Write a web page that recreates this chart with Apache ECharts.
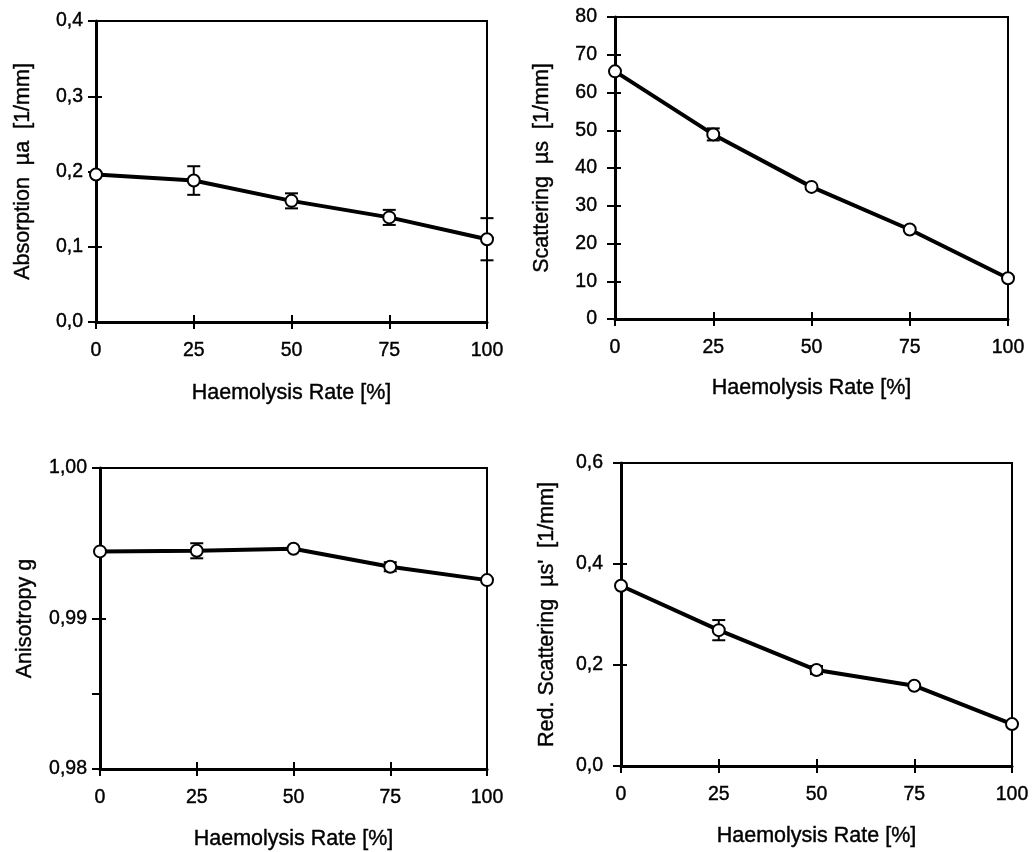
<!DOCTYPE html>
<html>
<head>
<meta charset="utf-8">
<script src="https://cdn.jsdelivr.net/npm/echarts@6/dist/echarts.min.js"></script>
<style>
  html, body { margin: 0; padding: 0; background: #fff; }
  #chart { width: 1035px; height: 852px; }
</style>
</head>
<body>
<div id="chart"></div>
<script>
// haemolysis rate on x for all four panels
const rates = [0, 25, 50, 75, 100]

const absorption = [0.196, 0.188, 0.161, 0.139, 0.110]
const absorptionErr = [0, 0.019, 0.010, 0.010, 0.028]

const scattering = [65.6, 48.9, 35.0, 23.7, 10.8]
const scatteringErr = [0, 1.6, 0, 0, 0]

const anisotropy = [0.99446, 0.99450, 0.99463, 0.99344, 0.99255]
const anisotropyErr = [0, 0.0005, 0, 0.0003, 0]

const redScattering = [0.357, 0.269, 0.190, 0.159, 0.083]
const redScatteringErr = [0, 0.02, 0.008, 0, 0]

const xName = 'Haemolysis Rate [%]'

const FONT = "'Liberation Sans', Arial, sans-serif"
// thin outline makes the glyphs a bit heavier, like the scanned figure
const TEXT = { fontFamily: FONT, color: '#000', textBorderColor: '#000', textBorderWidth: 0.4 }

// one entry per panel
const panels = [
  {
    values: absorption, errs: absorptionErr,
    name: 'Absorption  µa  [1/mm]',
    min: 0, max: 0.4, interval: 0.1, digits: 1,
    rect: { left: 96, top: 21, width: 391, height: 301 },
    labelMargin: 13, nameGap: 62, xNameGap: 60,
  },
  {
    values: scattering, errs: scatteringErr,
    name: 'Scattering  µs  [1/mm]',
    min: 0, max: 80, interval: 10, digits: 0,
    rect: { left: 615, top: 17, width: 393, height: 302 },
    labelMargin: 18, nameGap: 62, xNameGap: 58,
  },
  {
    values: anisotropy, errs: anisotropyErr,
    name: 'Anisotropy g',
    min: 0.98, max: 1.0, interval: 0.01, digits: 2,
    ticks: [0.98, 0.985, 0.99, 1.0],
    rect: { left: 100, top: 468, width: 387, height: 301 },
    labelMargin: 13, nameGap: 64, xNameGap: 59,
  },
  {
    values: redScattering, errs: redScatteringErr,
    name: "Red. Scattering  µs'  [1/mm]",
    min: 0, max: 0.6, interval: 0.2, digits: 1,
    rect: { left: 621, top: 463, width: 391, height: 303 },
    labelMargin: 18, nameGap: 63, xNameGap: 59,
  },
]

const fmt = (d) => (v) => v.toFixed(d).replace('.', ',')

const grid = []
const xAxis = []
const yAxis = []
const series = []

panels.forEach((p, i) => {
  grid.push({
    ...p.rect,
    show: true,
    borderColor: '#000',
    borderWidth: 2,
    backgroundColor: 'transparent',
  })

  // main axes: labels, names, outward ticks
  xAxis.push({
    type: 'value',
    gridIndex: i,
    position: 'bottom',
    min: 0,
    max: 100,
    interval: 25,
    name: xName,
    nameLocation: 'middle',
    nameGap: p.xNameGap,
    nameTextStyle: { ...TEXT, fontSize: 21.5 },
    axisLine: { show: true, lineStyle: { color: '#000', width: 3 } },
    axisTick: { show: true, inside: false, length: 7, lineStyle: { color: '#000', width: 2 } },
    axisLabel: { ...TEXT, fontSize: 19.5, margin: 19 },
    splitLine: { show: false },
  })
  yAxis.push({
    type: 'value',
    gridIndex: i,
    position: 'left',
    min: p.min,
    max: p.max,
    interval: p.interval,
    name: p.name,
    nameLocation: 'middle',
    nameRotate: 90,
    nameGap: p.nameGap,
    nameTextStyle: { ...TEXT, fontSize: 21.5 },
    axisLine: { show: true, lineStyle: { color: '#000', width: 3 } },
    axisTick: {
      show: true, inside: false, length: 8,
      customValues: p.ticks,
      lineStyle: { color: '#000', width: 2 },
    },
    axisLabel: {
      ...TEXT, fontSize: 19.5,
      margin: p.labelMargin, formatter: fmt(p.digits),
    },
    splitLine: { show: false },
  })

  // twin axes on the same side, only for the inward half of the ticks
  xAxis.push({
    type: 'value',
    gridIndex: i,
    position: 'bottom',
    min: 0,
    max: 100,
    interval: 25,
    axisLine: { show: false },
    axisTick: { show: true, inside: true, length: 7, lineStyle: { color: '#000', width: 2 } },
    axisLabel: { show: false },
    splitLine: { show: false },
  })
  yAxis.push({
    type: 'value',
    gridIndex: i,
    position: 'left',
    min: p.min,
    max: p.max,
    interval: p.interval,
    axisLine: { show: false },
    axisTick: { show: true, inside: true, length: 6, lineStyle: { color: '#000', width: 2 } },
    axisLabel: { show: false },
    splitLine: { show: false },
  })

  const xi = i * 2
  const yi = i * 2

  series.push({
    type: 'custom',
    xAxisIndex: xi,
    yAxisIndex: yi,
    z: 2,
    clip: false,
    data: rates
      .map((x, k) => [x, p.values[k] - p.errs[k], p.values[k] + p.errs[k], p.errs[k]])
      .filter((d) => d[3] > 0),
    renderItem: (params, api) => {
      const lo = api.coord([api.value(0), api.value(1)])
      const hi = api.coord([api.value(0), api.value(2)])
      const w = 6.5
      const style = { stroke: '#000', lineWidth: 2 }
      return {
        type: 'group',
        children: [
          { type: 'line', shape: { x1: lo[0], y1: lo[1], x2: hi[0], y2: hi[1] }, style },
          { type: 'line', shape: { x1: lo[0] - w, y1: lo[1], x2: lo[0] + w, y2: lo[1] }, style },
          { type: 'line', shape: { x1: hi[0] - w, y1: hi[1], x2: hi[0] + w, y2: hi[1] }, style },
        ],
      }
    },
  })

  series.push({
    type: 'line',
    xAxisIndex: xi,
    yAxisIndex: yi,
    z: 3,
    clip: false,
    data: rates.map((x, k) => [x, p.values[k]]),
    symbol: 'circle',
    symbolSize: 12,
    showSymbol: true,
    lineStyle: { color: '#000', width: 4 },
    itemStyle: { color: '#fff', borderColor: '#000', borderWidth: 2 },
    emphasis: { disabled: true },
    animation: false,
  })
})

const chart = echarts.init(document.getElementById('chart'))
chart.setOption({
  backgroundColor: '#fff',
  animation: false,
  grid,
  xAxis,
  yAxis,
  series,
})
</script>
</body>
</html>
